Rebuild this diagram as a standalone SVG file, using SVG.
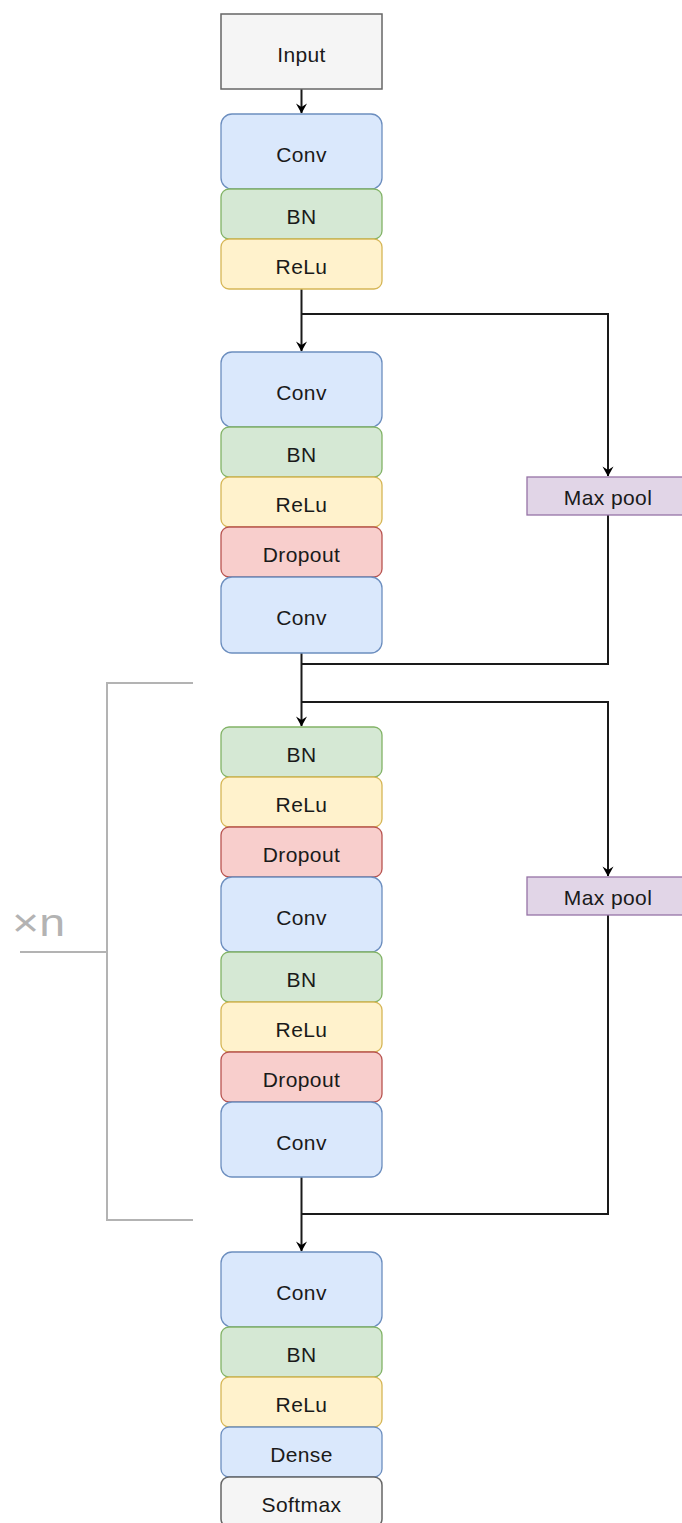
<svg xmlns="http://www.w3.org/2000/svg" width="682" height="1523" viewBox="0 0 682 1523">
  <style>
    text { font-family: "Liberation Sans", Arial, sans-serif; font-size: 21px; fill: #1a1a1a; text-anchor: middle; letter-spacing: 0.4px; }
    .blue { fill: #dae8fc; stroke: #6c8ebf; stroke-width: 1.3; }
    .green { fill: #d5e8d4; stroke: #82b366; stroke-width: 1.3; }
    .yellow { fill: #fff2cc; stroke: #d6b656; stroke-width: 1.3; }
    .red { fill: #f8cecc; stroke: #b85450; stroke-width: 1.3; }
    .purple { fill: #e1d5e7; stroke: #9673a6; stroke-width: 1.3; }
    .gray { fill: #f5f5f5; stroke: #666666; stroke-width: 1.5; }
    .edge { fill: none; stroke: #1a1a1a; stroke-width: 2; }
    .bracket { fill: none; stroke: #b3b3b3; stroke-width: 2; }
  </style>
  <defs>
    <marker id="arrow" markerWidth="12" markerHeight="12" refX="10" refY="6" orient="auto" markerUnits="userSpaceOnUse">
      <path d="M0.5,0.5 L10.5,6 L0.5,11.5 L4,6 Z" fill="#000"/>
    </marker>
  </defs>
  <rect width="682" height="1523" fill="#ffffff"/>

  <!-- repeat bracket -->
  <g id="repeat-bracket">
    <path class="bracket" d="M193,683 H107 V1220 H193"/>
    <path class="bracket" d="M20,952 H107"/>
    <text x="12" y="936" textLength="53" lengthAdjust="spacingAndGlyphs" style="font-size:38px; fill:#b3b3b3; text-anchor:start; letter-spacing:0">×n</text>
  </g>

  <!-- connectors -->
  <g id="connectors">
    <path class="edge" d="M301.5,89 V113" marker-end="url(#arrow)"/>
    <path class="edge" d="M301.5,289 V351" marker-end="url(#arrow)"/>
    <path class="edge" d="M301.5,314 H608 V476" marker-end="url(#arrow)"/>
    <path class="edge" d="M608,515 V664 H301.5"/>
    <path class="edge" d="M301.5,653 V726" marker-end="url(#arrow)"/>
    <path class="edge" d="M301.5,702 H608 V876" marker-end="url(#arrow)"/>
    <path class="edge" d="M608,915 V1214 H301.5"/>
    <path class="edge" d="M301.5,1177 V1251" marker-end="url(#arrow)"/>
  </g>

  <g id="input"><rect class="gray" x="221" y="14" width="161" height="75"/><text x="301.5" y="62">Input</text></g>

  <!-- stem -->
  <g id="conv1"><rect class="blue" x="221" y="114" width="161" height="75" rx="11"/><text x="301.5" y="162">Conv</text></g>
  <g id="bn1"><rect class="green" x="221" y="189" width="161" height="50" rx="8"/><text x="301.5" y="224">BN</text></g>
  <g id="relu1"><rect class="yellow" x="221" y="239" width="161" height="50" rx="8"/><text x="301.5" y="274">ReLu</text></g>

  <!-- first residual block -->
  <g id="conv2"><rect class="blue" x="221" y="352" width="161" height="75" rx="11"/><text x="301.5" y="400">Conv</text></g>
  <g id="bn2"><rect class="green" x="221" y="427" width="161" height="50" rx="8"/><text x="301.5" y="462">BN</text></g>
  <g id="relu2"><rect class="yellow" x="221" y="477" width="161" height="50" rx="8"/><text x="301.5" y="512">ReLu</text></g>
  <g id="dropout1"><rect class="red" x="221" y="527" width="161" height="50" rx="8"/><text x="301.5" y="562">Dropout</text></g>
  <g id="conv3"><rect class="blue" x="221" y="577" width="161" height="76" rx="11"/><text x="301.5" y="625">Conv</text></g>
  <g id="maxpool1"><rect class="purple" x="527" y="477" width="162" height="38"/><text x="608" y="505">Max pool</text></g>

  <!-- repeated residual block -->
  <g id="bn3"><rect class="green" x="221" y="727" width="161" height="50" rx="8"/><text x="301.5" y="762">BN</text></g>
  <g id="relu3"><rect class="yellow" x="221" y="777" width="161" height="50" rx="8"/><text x="301.5" y="812">ReLu</text></g>
  <g id="dropout2"><rect class="red" x="221" y="827" width="161" height="50" rx="8"/><text x="301.5" y="862">Dropout</text></g>
  <g id="conv4"><rect class="blue" x="221" y="877" width="161" height="75" rx="11"/><text x="301.5" y="925">Conv</text></g>
  <g id="bn4"><rect class="green" x="221" y="952" width="161" height="50" rx="8"/><text x="301.5" y="987">BN</text></g>
  <g id="relu4"><rect class="yellow" x="221" y="1002" width="161" height="50" rx="8"/><text x="301.5" y="1037">ReLu</text></g>
  <g id="dropout3"><rect class="red" x="221" y="1052" width="161" height="50" rx="8"/><text x="301.5" y="1087">Dropout</text></g>
  <g id="conv5"><rect class="blue" x="221" y="1102" width="161" height="75" rx="11"/><text x="301.5" y="1150">Conv</text></g>
  <g id="maxpool2"><rect class="purple" x="527" y="877" width="162" height="38"/><text x="608" y="905">Max pool</text></g>

  <!-- head -->
  <g id="conv6"><rect class="blue" x="221" y="1252" width="161" height="75" rx="11"/><text x="301.5" y="1300">Conv</text></g>
  <g id="bn5"><rect class="green" x="221" y="1327" width="161" height="50" rx="8"/><text x="301.5" y="1362">BN</text></g>
  <g id="relu5"><rect class="yellow" x="221" y="1377" width="161" height="50" rx="8"/><text x="301.5" y="1412">ReLu</text></g>
  <g id="dense"><rect class="blue" x="221" y="1427" width="161" height="50" rx="8"/><text x="301.5" y="1462">Dense</text></g>
  <g id="softmax"><rect class="gray" x="221" y="1477" width="161" height="50" rx="8"/><text x="301.5" y="1512">Softmax</text></g>
</svg>
